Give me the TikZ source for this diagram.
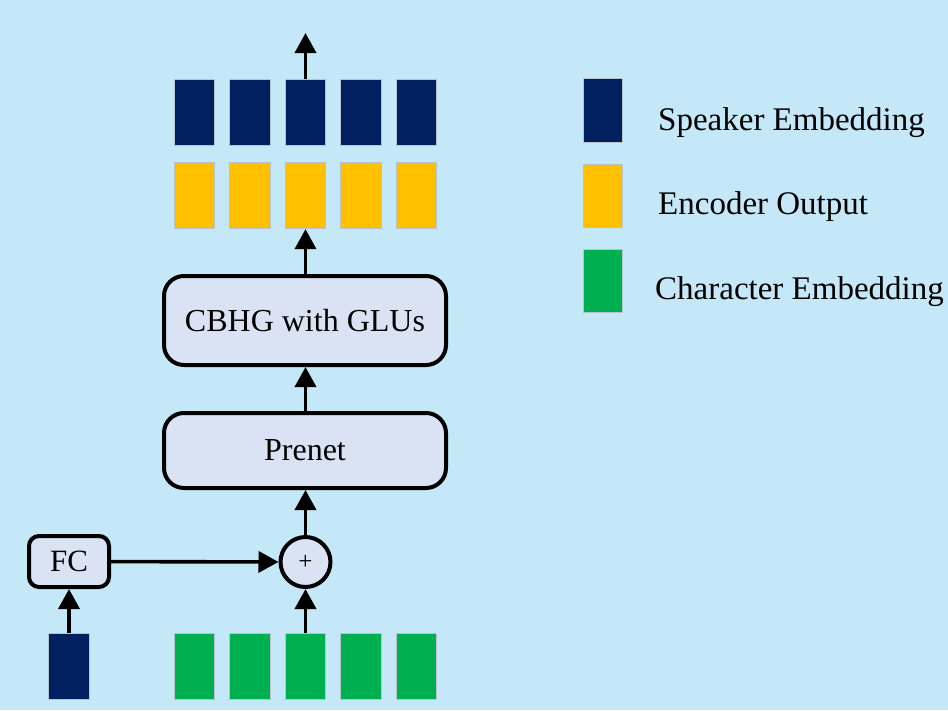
\documentclass[tikz,border=0pt]{standalone}
\usepackage{fontspec}
\setmainfont{Liberation Serif}
\usetikzlibrary{arrows.meta}
\definecolor{bgblue}{RGB}{196,232,248}
\definecolor{spk}{RGB}{0,32,96}
\definecolor{enc}{RGB}{255,192,0}
\definecolor{chr}{RGB}{0,176,80}
\definecolor{boxfill}{RGB}{218,227,243}
\definecolor{barline}{RGB}{185,195,205}
\tikzset{
  bar/.style={draw=barline, line width=0.8pt, minimum width=40.5pt, minimum height=66.5pt, inner sep=0pt},
  legbar/.style={draw=barline, line width=0.8pt, minimum width=39.5pt, minimum height=63.5pt, inner sep=0pt},
  block/.style={draw=black, line width=4pt, fill=boxfill, rounded corners=20pt, minimum width=282pt, inner sep=0pt, font=\fontsize{32}{36}\selectfont},
  fcbox/.style={draw=black, line width=4pt, fill=boxfill, rounded corners=10pt, minimum width=80pt, minimum height=51pt, inner sep=0pt, font=\fontsize{31}{36}\selectfont},
  sumnode/.style={draw=black, line width=4pt, fill=boxfill, circle, minimum size=50pt, inner sep=0pt, font=\fontsize{25}{26}\selectfont},
  flow/.style={draw=black, line width=3.6pt, -{Triangle[width=21pt, length=20pt]}},
  legtext/.style={anchor=base west, inner sep=0pt, font=\fontsize{33}{38}\selectfont}
}
\begin{document}
\begin{tikzpicture}[x=1pt, y=-1pt]
  % canvas
  \fill[bgblue] (0,0) rectangle (948,710);
  \useasboundingbox (0,0) rectangle (948,710);

  % output sequence: speaker embeddings over encoder outputs, character embeddings below
  \foreach \i/\x in {1/194.5, 2/250, 3/305.5, 4/361, 5/416.5} {
    \node[bar, fill=spk] (s\i) at (\x,112.2) {};
    \node[bar, fill=enc] (e\i) at (\x,195.5) {};
    \node[bar, fill=chr] (c\i) at (\x,666.5) {};
  }
  \coordinate (out) at (305.5,33);

  % processing blocks
  \node[block, minimum height=89pt] (cbhg) at (305,320.5) {CBHG with GLUs};
  \node[block, minimum height=75pt] (prenet) at (305,450.5) {Prenet};
  \node[sumnode] (sum) at (305.5,562) {+};
  \node[fcbox] (fc) at (69,561.5) {FC};
  \node[bar, fill=spk] (spkin) at (69,666.5) {};

  % connectors
  \draw[flow] (s3.north) -- (out);
  \draw[flow] (cbhg.north -| e3) -- (e3.south);
  \draw[flow] (prenet.north -| e3) -- (cbhg.south -| e3);
  \draw[flow] (sum) -- (prenet.south -| sum);
  \draw[flow] (c3.north) -- (sum);
  \draw[flow] (fc) -- (sum);
  \draw[flow] (spkin.north) -- (fc);

  % legend
  \node[legbar, fill=spk] (lspk) at (603,110.5) {};
  \node[legbar, fill=enc] (lenc) at (603,196) {};
  \node[legbar, fill=chr] (lchr) at (603,281) {};
  \node[legtext] (tspk) at (658,130) {Speaker Embedding};
  \node[legtext] (tenc) at (658,214) {Encoder Output};
  \node[legtext] (tchr) at (655,299) {Character Embedding};
\end{tikzpicture}
\end{document}
